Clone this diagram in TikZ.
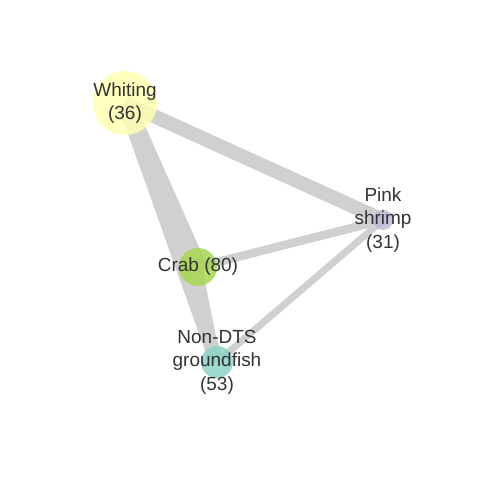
\documentclass[tikz,border=0pt]{standalone}
\usepackage{fontspec}
\setmainfont{Liberation Sans}
\usetikzlibrary{positioning, backgrounds}
\definecolor{cEdge}{RGB}{208,208,208}
\definecolor{cText}{RGB}{51,51,51}
\definecolor{cWhiting}{RGB}{255,255,179}
\definecolor{cShrimp}{RGB}{190,186,218}
\definecolor{cCrab}{RGB}{166,214,82}
\definecolor{cGround}{RGB}{141,211,199}
\tikzset{
	spot/.style={circle, inner sep=0pt, fill opacity=0.85, draw=none},
	lbl/.style={text=cText, align=center, font=\fontsize{10.8}{13.4}\selectfont, inner sep=0pt},
	link/.style={draw=cEdge, line cap=butt},
}

\begin{document}
\begin{tikzpicture}[x=0.02cm, y=-0.02cm]
	\useasboundingbox (0,0) rectangle (480,480);
	% species
	\node[spot, fill=cWhiting, minimum size=1.28cm, label={[lbl]center:Whiting\\(36)}] (whiting) at (125,103) {};
	\node[spot, fill=cShrimp, minimum size=0.40cm, label={[lbl]center:Pink\\shrimp\\(31)}] (shrimp) at (383,220) {};
	\node[spot, fill=cCrab, minimum size=0.76cm, label={[lbl]center:Crab (80)}] (crab) at (198,267) {};
	\node[spot, fill=cGround, minimum size=0.64cm, label={[lbl]center:Non-DTS\\groundfish\\(53)}] (ground) at (217,362) {};
	% overlaps
	\begin{scope}[on background layer]
		\fill[white] (0,0) rectangle (480,480);
		\draw[link, line width=0.36cm] (whiting.center) -- (crab.center);
		\draw[link, line width=0.30cm] (whiting.center) -- (ground.center);
		\draw[link, line width=0.28cm] (whiting.center) -- (shrimp.center);
		\draw[link, line width=0.17cm] (crab.center) -- (shrimp.center);
		\draw[link, line width=0.14cm] (ground.center) -- (shrimp.center);
		\draw[link, line width=0.16cm] (crab.center) -- (ground.center);
	\end{scope}
\end{tikzpicture}
\end{document}
